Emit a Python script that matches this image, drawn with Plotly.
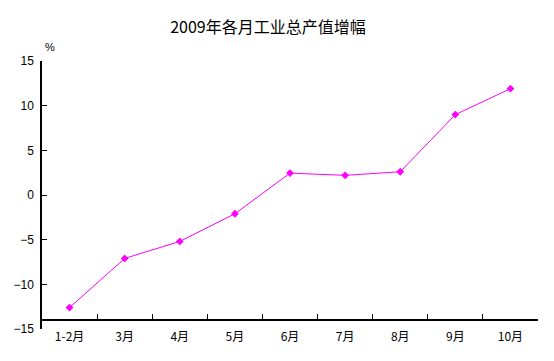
import plotly.graph_objects as go

categories = ["1-2月", "3月", "4月", "5月", "6月", "7月", "8月", "9月", "10月"]
growth = [-12.6, -7.1, -5.2, -2.1, 2.45, 2.2, 2.6, 9.0, 11.9]
y_ticks = [-15, -10, -5, 0, 5, 10, 15]

# page body adds an 8px offset, so the figure is drawn 8px smaller
W, H = 546, 353

fig = go.Figure()
fig.add_trace(go.Scatter(
    x=categories, y=growth, mode="lines+markers",
    line=dict(color="#FF00FF", width=1),
    marker=dict(symbol="diamond", size=6, color="#FF00FF"),
    showlegend=False,
))

cjk = "Noto Sans CJK SC, SimSun, sans-serif"
fig.update_layout(
    width=W, height=H,
    margin=dict(l=34, r=16, t=53, b=32, autoexpand=False),
    paper_bgcolor="white", plot_bgcolor="white",
    title=dict(text="2009年各月工业总产值增幅", x=260 / W, xanchor="center",
               y=1 - 19 / H, yanchor="middle", automargin=False,
               font=dict(family=cjk, size=16, color="black")),
    xaxis=dict(
        type="category", range=[-0.5, 8.5],
        anchor="free", position=1 / 30, automargin=False,
        showline=True, linecolor="black", linewidth=1.5,
        ticks="inside", tickson="boundaries", ticklen=5, tickcolor="black",
        showgrid=False, zeroline=False,
        ticklabelstandoff=6,
        tickfont=dict(family=cjk, size=12, color="black"),
    ),
    yaxis=dict(
        range=[-15, 15], tickvals=y_ticks, automargin=False,
        showline=True, linecolor="black", linewidth=1.5,
        ticks="inside", ticklen=5, tickcolor="black",
        showgrid=False, zeroline=False,
        ticklabelstandoff=4,
        tickfont=dict(family="Liberation Sans, Arial, sans-serif", size=12, color="black"),
    ),
    annotations=[dict(text="%", x=0.016, y=1.052, xref="paper", yref="paper",
                      showarrow=False, xanchor="center", yanchor="middle",
                      font=dict(family="Liberation Sans, Arial", size=11, color="black"))],
)

fig.write_html("out.html")
